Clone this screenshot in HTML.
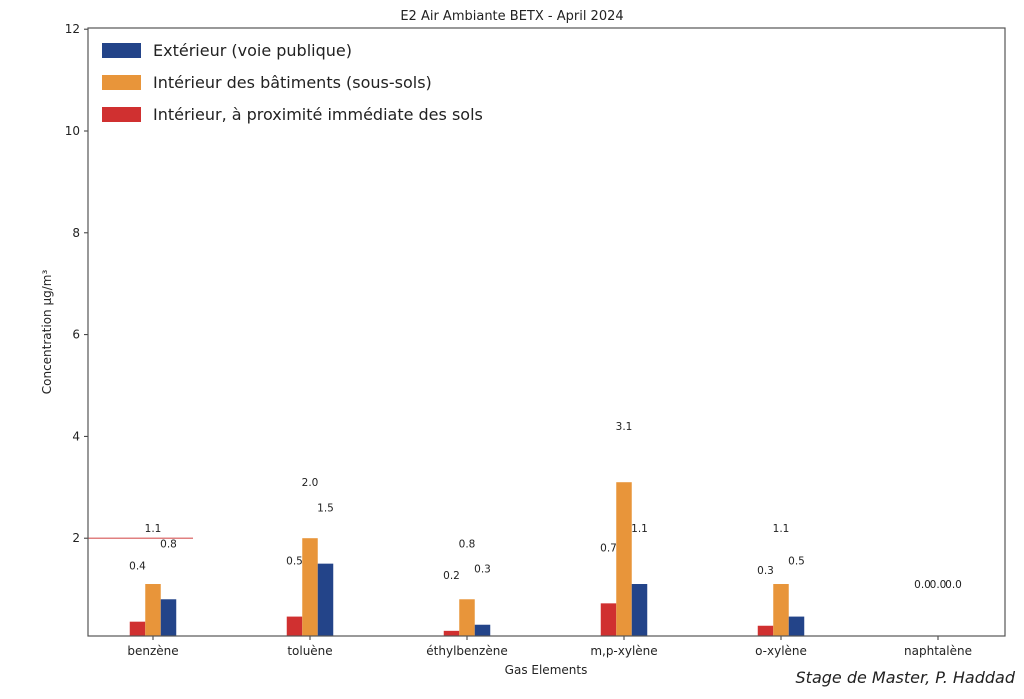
<!DOCTYPE html>
<html><head><meta charset="utf-8"><style>
body{margin:0;background:#fff;}
svg text{font-family:"DejaVu Sans","Liberation Sans",sans-serif;fill:#222;}
</style></head><body>
<svg width="1024" height="694">
<g id="plot"></g>
</svg>
<script>
const categories=["benzène","toluène","éthylbenzène","m,p-xylène","o-xylène","naphtalène"];
const redVals=[0.36,0.46,0.18,0.72,0.28,0];
const orangeVals=[1.1,2.0,0.8,3.1,1.1,0];
const blueVals=[0.8,1.5,0.3,1.1,0.46,0];
const yTicks=[2,4,6,8,10,12];
const NS="http://www.w3.org/2000/svg";
const g=document.getElementById('plot');
const L=88,R=1005,T=28,B=636;
const y=v=>640-50.9*v;
const xc=i=>153+157*i;
function el(t,a,txt){const e=document.createElementNS(NS,t);for(const k in a)e.setAttribute(k,a[k]);if(txt!==undefined)e.textContent=txt;g.appendChild(e);return e;}
const title=el('text',{x:512,y:20,'text-anchor':'middle','font-size':13},'E2 Air Ambiante BETX - April 2024');


const series=[[redVals,'#d03030',-1,'red'],[orangeVals,'#e8953a',0,'orange'],[blueVals,'#234489',1,'blue']];
categories.forEach((c,i)=>{
 series.forEach(([vals,col,off,nm])=>{
  const cx=xc(i)+off*15.5;
  const top=Math.min(y(vals[i]),B);
  const r=el('rect',{x:cx-7.75,y:top,width:15.5,height:B-top,fill:col});
  
  
  const t=el('text',{x:cx,y:y(vals[i]+1.1)+4,'text-anchor':'middle','font-size':10.5},vals[i].toFixed(1));
  
  
 });
 el('line',{x1:xc(i),x2:xc(i),y1:B,y2:B+4,stroke:'#333'});
 const xl=el('text',{x:xc(i),y:B+19,'text-anchor':'middle','font-size':12},c);
 
 
});
yTicks.forEach(v=>{
 el('line',{x1:L-4,x2:L,y1:y(v),y2:y(v),stroke:'#333'});
 const t=el('text',{x:L-8,y:y(v)+4,'text-anchor':'end','font-size':12},v);
 
 
});
const ref=el('line',{x1:L,x2:193,y1:y(2),y2:y(2),stroke:'#e08080','stroke-width':1.5});


const ax=el('rect',{x:L,y:T,width:R-L,height:B-T,fill:'none',stroke:'#555','stroke-width':1.2});


const leg=[['#234489','Extérieur (voie publique)'],['#e8953a','Intérieur des bâtiments (sous-sols)'],['#d03030','Intérieur, à proximité immédiate des sols']];
leg.forEach(([col,txt],k)=>{
 const yy=52+32*k;
 const s=el('rect',{x:102,y:yy-9,width:39,height:15,fill:col});
 
 
 const t=el('text',{x:153,y:yy+4,'font-size':16},txt);
 
 
});
const yl=el('text',{x:0,y:0,'font-size':12,'text-anchor':'middle',transform:'translate(51,332) rotate(-90)'},'Concentration µg/m³');


const xt=el('text',{x:546,y:674,'text-anchor':'middle','font-size':12},'Gas Elements');


const ft=el('text',{x:1015,y:683,'text-anchor':'end','font-size':16,'font-style':'italic'},'Stage de Master, P. Haddad');


</script>
</body></html>
